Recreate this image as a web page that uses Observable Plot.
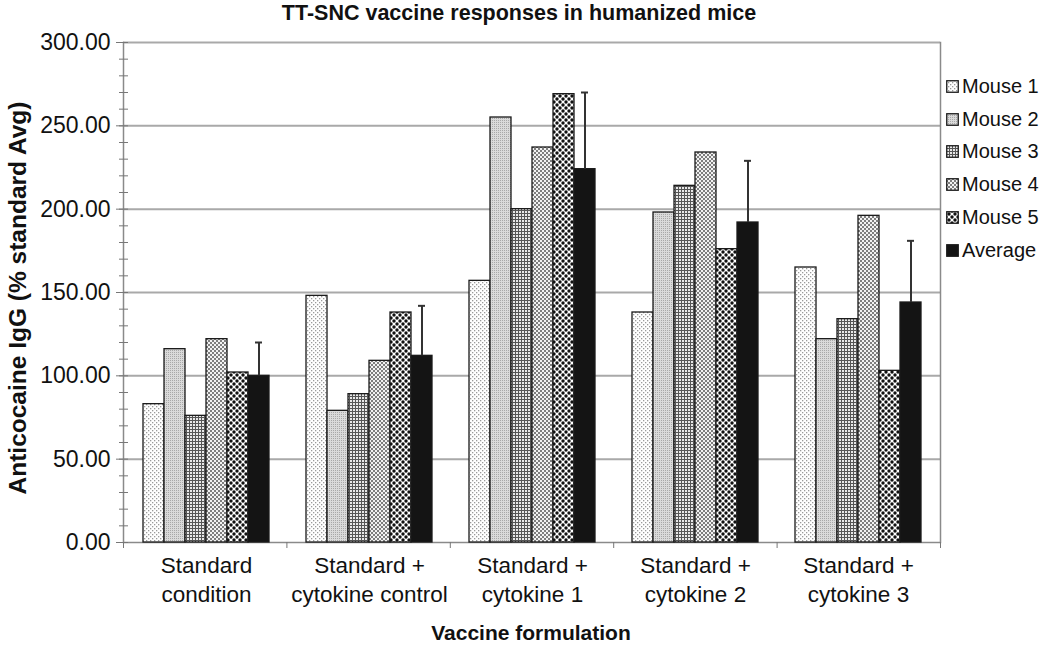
<!DOCTYPE html>
<html>
<head>
<meta charset="utf-8">
<script src="https://cdn.jsdelivr.net/npm/d3@7"></script>
<script src="https://cdn.jsdelivr.net/npm/@observablehq/plot@0.6"></script>
<style>
  html, body { margin: 0; padding: 0; background: #fff; }
  #wrap { position: relative; width: 1050px; height: 645px; font-family: "Liberation Sans", Arial, sans-serif; color: #111; overflow: hidden; }
  #wrap > svg { position: absolute; left: 0; top: 0; }
  #title { position: absolute; left: -6px; width: 1050px; top: 1px; text-align: center; font-weight: bold; font-size: 21.5px; }
  #ytitle { position: absolute; left: 18px; top: 298px; transform: translate(-50%, -50%) rotate(-90deg); white-space: nowrap; font-weight: bold; font-size: 24.5px; }
  #xtitle { position: absolute; left: 531px; top: 633px; transform: translate(-50%, -50%); white-space: nowrap; font-weight: bold; font-size: 21px; }
  #legend { position: absolute; left: 946px; top: 70px; font-size: 20px; }
  .item { display: flex; align-items: center; height: 32.8px; }
  .item svg { margin-right: 3px; }
</style>
</head>
<body>
<svg width="0" height="0" style="position:absolute">
  <defs>
    <pattern id="pat0" width="4" height="4" patternUnits="userSpaceOnUse">
      <rect width="4" height="4" fill="#ffffff"/>
      <rect x="0" y="0" width="1.3" height="1.3" fill="#9a9a9a"/>
      <rect x="2" y="2" width="1.3" height="1.3" fill="#9a9a9a"/>
    </pattern>
    <pattern id="pat1" width="2" height="2" patternUnits="userSpaceOnUse">
      <rect width="2" height="2" fill="#dadada"/>
      <rect x="0" y="0" width="1" height="1" fill="#a8a8a8"/>
    </pattern>
    <pattern id="pat2" width="3" height="3" patternUnits="userSpaceOnUse">
      <rect width="3" height="3" fill="#e8e8e8"/>
      <rect x="0" y="0" width="3" height="1" fill="#555"/>
      <rect x="0" y="0" width="1" height="3" fill="#555"/>
    </pattern>
    <pattern id="pat3" width="4" height="4" patternUnits="userSpaceOnUse">
      <rect width="4" height="4" fill="#7e7e7e"/>
      <rect x="0" y="0" width="2" height="2" fill="#f2f2f2"/>
      <rect x="2" y="2" width="2" height="2" fill="#f2f2f2"/>
    </pattern>
    <pattern id="pat4" width="6" height="6" patternUnits="userSpaceOnUse">
      <rect width="6" height="6" fill="#ffffff"/>
      <circle cx="0" cy="0" r="1.7" fill="#111"/>
      <circle cx="6" cy="0" r="1.7" fill="#111"/>
      <circle cx="0" cy="6" r="1.7" fill="#111"/>
      <circle cx="6" cy="6" r="1.7" fill="#111"/>
      <circle cx="3" cy="3" r="1.7" fill="#111"/>
    </pattern>
    <pattern id="pat5" width="4" height="4" patternUnits="userSpaceOnUse">
      <rect width="4" height="4" fill="#141414"/>
    </pattern>
  </defs>
</svg>
<div id="wrap">
  <div id="title">TT-SNC vaccine responses in humanized mice</div>
  <div id="ytitle">Anticocaine IgG (% standard Avg)</div>
  <div id="xtitle">Vaccine formulation</div>
  <div id="legend"></div>
</div>
<script>
// ---- data ----
const groups = ["Standard condition", "Standard + cytokine control", "Standard + cytokine 1", "Standard + cytokine 2", "Standard + cytokine 3"];
const groupTickLabels = ["Standard\ncondition", "Standard +\ncytokine control", "Standard +\ncytokine 1", "Standard +\ncytokine 2", "Standard +\ncytokine 3"];
const series = ["Mouse 1", "Mouse 2", "Mouse 3", "Mouse 4", "Mouse 5", "Average"];
const mouse1 = [83, 148, 157, 138, 165];
const mouse2 = [116, 79, 255, 198, 122];
const mouse3 = [76, 89, 200, 214, 134];
const mouse4 = [122, 109, 237, 234, 196];
const mouse5 = [102, 138, 269, 176, 103];
const average = [100, 112, 224, 192, 144];
const averageError = [20, 30, 46, 37, 37];
const yTicks = [0, 50, 100, 150, 200, 250, 300];
const yMinorTicks = d3.range(0, 301, 10);

// ---- table ----
const seriesValues = [mouse1, mouse2, mouse3, mouse4, mouse5, average];
const rows = [];
groups.forEach((g, gi) => series.forEach((s, si) => rows.push({group: g, series: s, value: seriesValues[si][gi]})));
const errRows = groups.map((g, gi) => ({group: g, series: "Average", lo: average[gi], hi: average[gi] + averageError[gi]}));
const labelOf = new Map(groups.map((g, i) => [g, groupTickLabels[i]]));
const patterns = series.map((s, i) => `url(#pat${i})`);

const common = {
  width: 1050,
  height: 645,
  marginLeft: 123,
  marginRight: 110,
  marginTop: 42,
  marginBottom: 103,
  style: {fontFamily: "'Liberation Sans', Arial, sans-serif", background: "transparent", color: "#111", overflow: "visible"}
};

// background: grid, frame, y axis, category boundary ticks
const back = Plot.plot({
  ...common,
  x: {domain: [0, groups.length], axis: null},
  y: {domain: [0, 300], axis: null},
  marks: [
    Plot.ruleY(yTicks.slice(1), {stroke: "#a9a9a9", strokeWidth: 2}),
    Plot.frame({anchor: "right", stroke: "#8a8a8a", strokeWidth: 1.5}),
    Plot.frame({anchor: "left", stroke: "#8a8a8a", strokeWidth: 1.5}),
    Plot.ruleY([0], {stroke: "#8a8a8a", strokeWidth: 1.5}),
    Plot.axisX({ticks: d3.range(0, groups.length + 1), tickSize: 6, tickFormat: () => "", stroke: "#777", label: null}),
    Plot.axisY({ticks: yMinorTicks, tickSize: 9, dx: 5, tickFormat: () => "", stroke: "#777", label: null}),
    Plot.axisY({ticks: yTicks, tickSize: 7, tickPadding: 6, tickFormat: d => d.toFixed(2), fontSize: 23, stroke: "#777", label: null})
  ]
});

// foreground: grouped bars
const front = Plot.plot({
  ...common,
  fx: {domain: groups, paddingInner: 0.204, paddingOuter: 0.102, label: null},
  x: {domain: series, padding: 0, axis: null},
  y: {domain: [0, 300], axis: null},
  color: {domain: series, range: patterns},
  marks: [
    Plot.barY(rows, {fx: "group", x: "series", y: "value", fill: "series", stroke: "#1a1a1a", strokeWidth: 1.3}),
    Plot.ruleX(errRows, {fx: "group", x: "series", y1: "lo", y2: "hi", stroke: "#333", strokeWidth: 2}),
    Plot.tickY(errRows, {fx: "group", x: "series", y: "hi", stroke: "#333", strokeWidth: 2, insetLeft: 7, insetRight: 7}),
    Plot.axisFx({anchor: "bottom", tickSize: 0, tickPadding: 11, fontSize: 22.5, lineHeight: 1.25, tickFormat: d => labelOf.get(d), label: null})
  ]
});

const wrap = document.getElementById("wrap");
wrap.prepend(front);
wrap.prepend(back);

// legend
const legend = document.getElementById("legend");
series.forEach((s, i) => {
  const item = document.createElement("div");
  item.className = "item";
  item.innerHTML = `<svg width="13" height="13"><rect x="0.75" y="0.75" width="11.5" height="11.5" fill="${patterns[i]}" stroke="#1a1a1a" stroke-width="1.3"/></svg><span>${s}</span>`;
  legend.appendChild(item);
});
</script>
</body>
</html>
